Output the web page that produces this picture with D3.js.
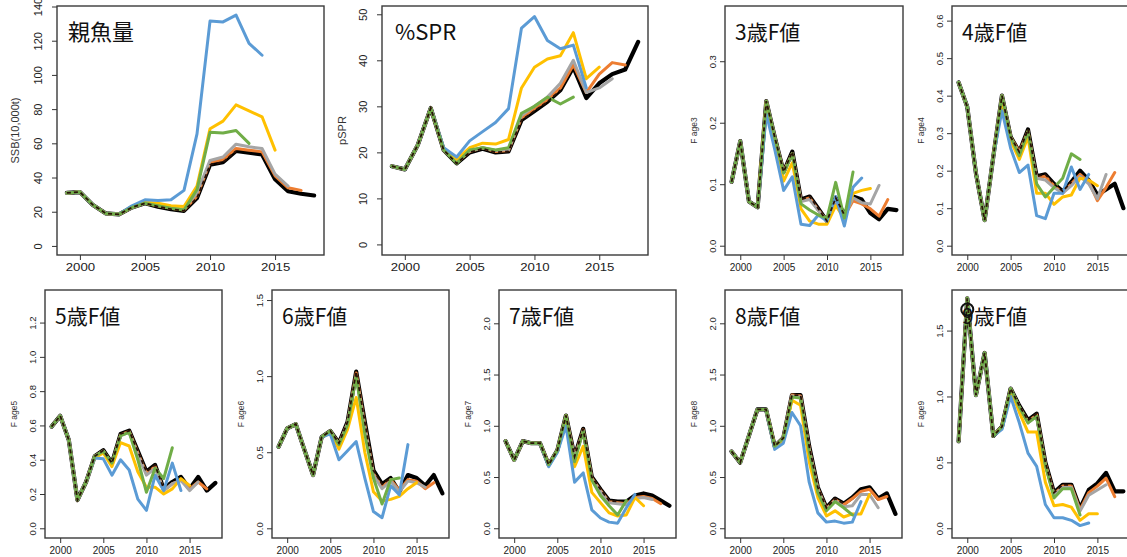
<!DOCTYPE html>
<html><head><meta charset="utf-8">
<script src="https://cdn.jsdelivr.net/npm/d3@7"></script>
<style>body{margin:0;background:#fff}svg{display:block}</style>
</head><body>
<svg id="c" width="1127" height="557"></svg>
<script>
// ---------- data ----------
const years = [1999,2000,2001,2002,2003,2004,2005,2006,2007,2008,2009,2010,2011,2012,2013,2014,2015,2016,2017,2018];
const seriesLabels = ["2018","2017","2016","2015","2014","2013"];
const xTicks = [2000,2005,2010,2015];
const panelTitles = ["親魚量","%SPR","3歳F値","4歳F値","5歳F値","6歳F値","7歳F値","8歳F値","9歳F値"];
const yTitles = ["SSB(10,000t)","pSPR","F age3","F age4","F age5","F age6","F age7","F age8","F age9"];
const yTicksSSB = [0,20,40,60,80,100,120,140];
const yTicksSPR = [0,10,20,30,40,50];
const yTicksF3 = [0,0.1,0.2,0.3];
const yTicksF4 = [0,0.1,0.2,0.3,0.4,0.5,0.6];
const yTicksF5 = [0,0.2,0.4,0.6,0.8,1.0,1.2];
const yTicksF6 = [0,0.5,1.0,1.5];
const yTicksF7 = [0,0.5,1.0,1.5,2.0];
const yTicksF8 = [0,0.5,1.0,1.5,2.0];
const yTicksF9 = [0,0.5,1.0,1.5];

// each: [2018, 2017, 2016, 2015, 2014, 2013] terminal-year runs
const ssb = [
 [31,31.5,24,19,18.5,22.5,25,23,21.5,20.5,28,47.5,49,55.5,54.5,53.5,39,32,30.5,29.5],
 [31,31.5,24,19,18.5,22.5,25,23.5,22,21,29,49,50.5,57,56,55,41,34,32.5],
 [31,31.5,24,19,18.5,22.5,25,24,22.5,21.5,31,50,52,59.5,58,57,42,35],
 [31,31.5,24,19,18.5,23,25.5,25,23.5,23,35,68.5,73,82.5,79,75.5,56],
 [31,31.5,24,19,18.5,23.5,27,26.5,27,32.5,65.5,131.5,131,135,118.5,111.5],
 [31,31.5,24,19,18.5,22.5,25,23.5,22,21,33,66.5,66,67.5,60]
];
const spr = [
 [17,16.3,21.6,29.6,20.5,17.6,20,20.8,20,20.2,27,29,31,33.5,38.5,31.8,35,37,38,44],
 [17,16.3,21.6,29.6,20.5,17.8,20.2,21,20.2,20.4,27.5,29.5,31.5,34,39,33,37,39.5,39],
 [17,16.3,21.6,29.6,20.5,17.8,20.3,21,20.4,20.6,28,30,32,35,40,33,34,36],
 [17,16.3,21.6,29.6,20.8,18.5,21,22,21.8,22.8,34,38.5,40.3,41,46,36,38.5],
 [17,16.3,21.6,29.6,21,19,22.5,24.5,26.5,29.5,47,49.5,44.3,42.5,43.3,34],
 [17,16.3,21.6,29.6,20.5,17.6,20.5,21,20.5,21,28.5,30,32,30.5,32]
];
const fAge3 = [
 [0.104,0.17,0.072,0.0625,0.235,0.175,0.12,0.153,0.075,0.08,0.06,0.04,0.078,0.05,0.08,0.075,0.053,0.043,0.06,0.058],
 [0.104,0.17,0.072,0.0625,0.235,0.175,0.12,0.15,0.073,0.078,0.058,0.04,0.076,0.048,0.073,0.068,0.06,0.048,0.075],
 [0.104,0.17,0.072,0.0625,0.235,0.175,0.118,0.15,0.072,0.075,0.057,0.04,0.075,0.048,0.078,0.07,0.068,0.098],
 [0.104,0.17,0.072,0.0625,0.232,0.17,0.105,0.135,0.06,0.04,0.035,0.035,0.065,0.045,0.085,0.09,0.093],
 [0.104,0.17,0.072,0.0625,0.215,0.155,0.09,0.112,0.035,0.033,0.05,0.04,0.08,0.032,0.095,0.11],
 [0.104,0.17,0.072,0.0625,0.235,0.175,0.118,0.15,0.068,0.058,0.05,0.045,0.103,0.045,0.12]
];
const fAge4 = [
 [0.435,0.37,0.193,0.068,0.237,0.4,0.29,0.25,0.31,0.185,0.19,0.165,0.145,0.17,0.2,0.175,0.135,0.15,0.165,0.1],
 [0.435,0.37,0.193,0.068,0.237,0.4,0.29,0.25,0.305,0.18,0.185,0.16,0.14,0.165,0.19,0.17,0.12,0.155,0.195],
 [0.435,0.37,0.193,0.068,0.237,0.4,0.288,0.245,0.3,0.18,0.175,0.155,0.14,0.16,0.185,0.165,0.125,0.19],
 [0.435,0.37,0.193,0.068,0.237,0.39,0.28,0.23,0.29,0.14,0.14,0.11,0.13,0.135,0.18,0.175,0.16],
 [0.435,0.37,0.193,0.068,0.237,0.36,0.26,0.195,0.215,0.08,0.072,0.14,0.14,0.21,0.15,0.19],
 [0.435,0.37,0.193,0.068,0.237,0.4,0.29,0.24,0.305,0.165,0.13,0.155,0.18,0.245,0.23]
];
const fAge5 = [
 [0.593,0.656,0.515,0.165,0.27,0.42,0.455,0.38,0.55,0.57,0.45,0.33,0.37,0.23,0.27,0.3,0.23,0.3,0.22,0.265],
 [0.593,0.656,0.515,0.165,0.27,0.42,0.45,0.375,0.545,0.565,0.44,0.32,0.36,0.22,0.26,0.28,0.23,0.27,0.23],
 [0.593,0.656,0.515,0.165,0.27,0.42,0.45,0.37,0.54,0.56,0.43,0.31,0.35,0.22,0.26,0.28,0.22,0.27],
 [0.593,0.656,0.515,0.165,0.27,0.41,0.44,0.36,0.5,0.48,0.33,0.24,0.24,0.2,0.23,0.29,0.25],
 [0.593,0.656,0.515,0.165,0.27,0.41,0.405,0.31,0.4,0.34,0.17,0.105,0.31,0.22,0.38,0.22],
 [0.593,0.656,0.515,0.165,0.27,0.42,0.45,0.38,0.54,0.56,0.4,0.21,0.35,0.29,0.47]
];
const fAge6 = [
 [0.536,0.657,0.685,0.515,0.35,0.6,0.64,0.56,0.7,1.03,0.7,0.38,0.29,0.33,0.24,0.35,0.33,0.28,0.35,0.23],
 [0.536,0.657,0.685,0.515,0.35,0.6,0.64,0.555,0.69,1.02,0.68,0.36,0.27,0.32,0.25,0.32,0.31,0.26,0.3],
 [0.536,0.657,0.685,0.515,0.35,0.6,0.64,0.55,0.69,1.0,0.66,0.35,0.26,0.31,0.24,0.31,0.3,0.27],
 [0.536,0.657,0.685,0.515,0.35,0.6,0.63,0.52,0.65,0.86,0.5,0.24,0.18,0.19,0.21,0.26,0.3],
 [0.536,0.657,0.685,0.515,0.35,0.6,0.62,0.45,0.51,0.57,0.33,0.11,0.07,0.28,0.22,0.55],
 [0.536,0.657,0.685,0.515,0.35,0.6,0.64,0.55,0.68,1.0,0.62,0.33,0.16,0.32,0.33]
];
const fAge7 = [
 [0.85,0.667,0.85,0.83,0.83,0.62,0.76,1.1,0.7,0.97,0.5,0.38,0.27,0.26,0.26,0.32,0.34,0.32,0.27,0.22],
 [0.85,0.667,0.85,0.83,0.83,0.62,0.76,1.1,0.69,0.96,0.49,0.37,0.26,0.25,0.24,0.3,0.31,0.29,0.24],
 [0.85,0.667,0.85,0.83,0.83,0.62,0.76,1.09,0.68,0.95,0.48,0.36,0.25,0.24,0.23,0.29,0.3,0.28],
 [0.85,0.667,0.85,0.83,0.83,0.62,0.75,1.08,0.6,0.8,0.35,0.25,0.15,0.12,0.13,0.3,0.22],
 [0.85,0.667,0.85,0.83,0.83,0.6,0.74,1.0,0.45,0.54,0.18,0.1,0.06,0.05,0.2,0.33],
 [0.85,0.667,0.85,0.83,0.83,0.62,0.76,1.1,0.65,0.95,0.47,0.32,0.22,0.13,0.27]
];
const fAge8 = [
 [0.75,0.64,0.9,1.16,1.16,0.8,0.88,1.3,1.3,0.8,0.4,0.2,0.29,0.24,0.3,0.38,0.4,0.29,0.34,0.14],
 [0.75,0.64,0.9,1.16,1.16,0.8,0.88,1.3,1.29,0.78,0.39,0.19,0.28,0.23,0.29,0.36,0.38,0.28,0.31],
 [0.75,0.64,0.9,1.16,1.16,0.8,0.88,1.29,1.28,0.77,0.38,0.18,0.27,0.21,0.22,0.33,0.33,0.2],
 [0.75,0.64,0.9,1.16,1.16,0.79,0.87,1.25,1.2,0.65,0.3,0.12,0.17,0.11,0.14,0.14,0.33],
 [0.75,0.64,0.9,1.16,1.16,0.77,0.83,1.13,1.0,0.45,0.15,0.06,0.07,0.05,0.06,0.26],
 [0.75,0.64,0.9,1.16,1.16,0.8,0.88,1.28,1.27,0.75,0.35,0.17,0.26,0.2,0.13]
];
const fAge9 = [
 [0.66,1.745,1.01,1.33,0.7,0.77,1.06,0.93,0.82,0.87,0.5,0.27,0.33,0.33,0.15,0.29,0.34,0.42,0.28,0.28],
 [0.66,1.745,1.01,1.33,0.7,0.77,1.06,0.92,0.81,0.86,0.49,0.26,0.32,0.32,0.14,0.27,0.32,0.38,0.24],
 [0.66,1.745,1.01,1.33,0.7,0.77,1.06,0.92,0.8,0.85,0.48,0.25,0.31,0.31,0.13,0.25,0.29,0.33],
 [0.66,1.745,1.01,1.33,0.7,0.77,1.05,0.88,0.73,0.73,0.35,0.17,0.18,0.16,0.06,0.11,0.11],
 [0.66,1.745,1.01,1.33,0.7,0.75,1.0,0.8,0.57,0.47,0.18,0.08,0.08,0.06,0.02,0.04],
 [0.66,1.745,1.01,1.33,0.7,0.77,1.06,0.92,0.8,0.85,0.48,0.23,0.3,0.3,0.1]
];
const age9Marker = [2000, 1.66];
const overlayLastYear = 2012;

// ---------- styles / layout ----------
const seriesColors = ["#000000","#ed7d31","#a5a5a5","#ffc000","#5b9bd5","#70ad47"];
const seriesWidths = [4.2,3,3,3,3,3];
const allData = [ssb,spr,fAge3,fAge4,fAge5,fAge6,fAge7,fAge8,fAge9];
const allTicks = [yTicksSSB,yTicksSPR,yTicksF3,yTicksF4,yTicksF5,yTicksF6,yTicksF7,yTicksF8,yTicksF9];
const layout = [
 {x0:57, x1:324, y0:6, y1:255, lo:-5.3, hi:140.3, big:true, fmt:"d"},
 {x0:382,x1:648, y0:6, y1:255, lo:-2.3, hi:51.8, big:true, fmt:"d"},
 {x0:725,x1:903, y0:6, y1:255, lo:-0.0151, hi:0.3898, fmt:".1f"},
 {x0:952,x1:1130,y0:6, y1:255, lo:-0.0248, hi:0.639, fmt:".1f"},
 {x0:45, x1:222, y0:290,y1:538, lo:-0.0566, hi:1.390, fmt:".1f"},
 {x0:272,x1:449, y0:290,y1:538, lo:-0.0637, hi:1.566, fmt:".1f"},
 {x0:499,x1:676, y0:290,y1:538, lo:-0.095, hi:2.325, fmt:".1f"},
 {x0:725,x1:902, y0:290,y1:538, lo:-0.095, hi:2.325, fmt:".1f"},
 {x0:952,x1:1130,y0:290,y1:538, lo:-0.074, hi:1.808, fmt:".1f"}
];

const svg = d3.select("#c");
const tickFont = "'Liberation Sans', Arial, sans-serif";
const titleFont = "'Noto Sans CJK JP', 'Noto Sans', sans-serif";

allData.forEach((data, p) => {
  const L = layout[p];
  const x = d3.scaleLinear().domain([1998.24, 2018.76]).range([L.x0, L.x1]);
  const y = d3.scaleLinear().domain([L.lo, L.hi]).range([L.y1, L.y0]);
  const g = svg.append("g");
  const clipId = "clip" + p;
  svg.append("clipPath").attr("id", clipId).append("rect")
    .attr("x", L.x0).attr("y", L.y0).attr("width", L.x1 - L.x0).attr("height", L.y1 - L.y0);

  const line = d3.line().x((d, i) => x(years[i])).y(d => y(d)).curve(d3.curveLinear);
  const lines = g.append("g").attr("clip-path", `url(#${clipId})`);
  data.forEach((s, k) => {
    lines.append("path").datum(s)
      .attr("d", line).attr("fill", "none")
      .attr("stroke", seriesColors[k]).attr("stroke-width", seriesWidths[k])
      .attr("stroke-linejoin", "round").attr("stroke-linecap", "round");
  });
  // dashed overlay (retrospective reference run)
  const nOv = years.indexOf(overlayLastYear) + 1;
  lines.append("path").datum(data[0].slice(0, nOv))
    .attr("d", line).attr("fill", "none")
    .attr("stroke", "#2a1208").attr("stroke-width", 1.8)
    .attr("stroke-dasharray", "4,3");

  if (p === 8) {
    g.append("circle").attr("cx", x(age9Marker[0])).attr("cy", y(age9Marker[1]))
      .attr("r", 6).attr("fill", "none").attr("stroke", "#111").attr("stroke-width", 2);
  }

  // box
  g.append("rect").attr("x", L.x0).attr("y", L.y0)
    .attr("width", L.x1 - L.x0).attr("height", L.y1 - L.y0)
    .attr("fill", "none").attr("stroke", "#3a3a3a").attr("stroke-width", 1.4);

  // x axis
  const xa = g.append("g").attr("transform", `translate(0,${L.y1})`)
    .call(d3.axisBottom(x).tickValues(xTicks).tickSize(5).tickPadding(L.big ? 3 : 4).tickFormat(d3.format("d")));
  xa.select(".domain").remove();
  xa.selectAll("line").attr("stroke", "#333");
  xa.selectAll("text").attr("fill", "#222").style("font-family", tickFont)
    .style("font-size", L.big ? "11px" : "10px")
    .attr("transform", L.big ? "scale(1.2,1)" : null);

  // y axis
  const yt = allTicks[p];
  const ya = g.append("g").attr("transform", `translate(${L.x0},0)`)
    .call(d3.axisLeft(y).tickValues(yt).tickSize(5).tickFormat(d3.format(L.fmt)));
  ya.select(".domain").remove();
  ya.selectAll("line").attr("stroke", "#333");
  ya.selectAll("text").attr("fill", "#222").style("font-family", tickFont)
    .style("font-size", L.big ? "11px" : "9.5px")
    .attr("transform", "rotate(-90)").attr("x", 0)
    .attr("y", L.big ? -15 : -9).attr("dy", 0).attr("text-anchor", "middle");

  // y title
  const yc = (L.y0 + L.y1) / 2;
  g.append("text").attr("transform", `translate(${L.x0 - (L.big ? (p===0?38:36) : 28)},${yc}) rotate(-90)`)
    .attr("text-anchor", "middle").attr("fill", "#333")
    .style("font-family", tickFont).style("font-size", L.big ? "11px" : "8.5px")
    .text(yTitles[p]);

  // panel title
  g.append("text").attr("x", L.x0 + (L.big ? (p===0?11:13) : 10)).attr("y", L.y0 + (L.big ? 34 : 34))
    .attr("fill", "#111").style("font-family", titleFont)
    .style("font-size", L.big ? "22px" : "21px")
    .text(panelTitles[p]);
});
</script>
</body></html>
